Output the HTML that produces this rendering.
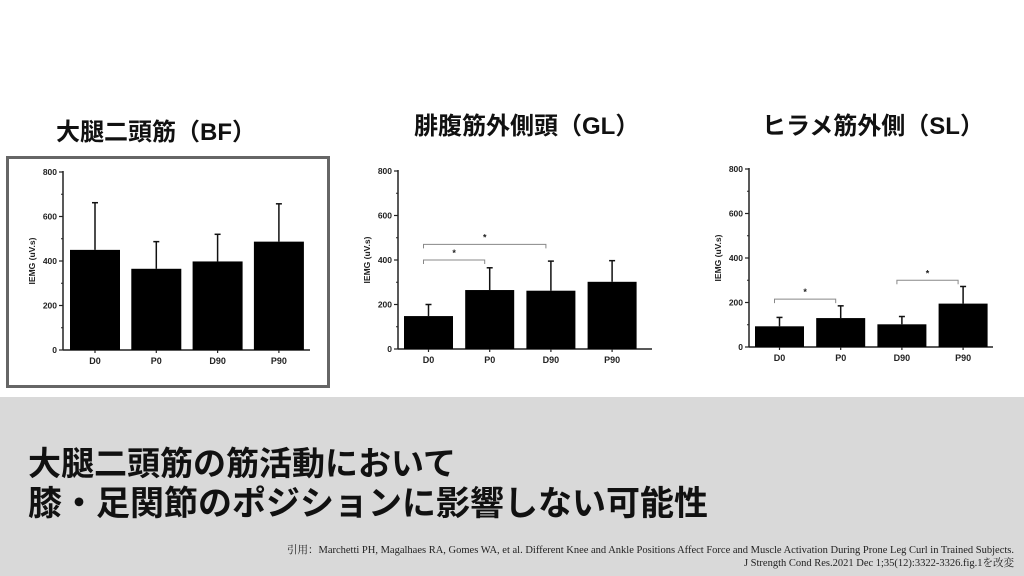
<!DOCTYPE html>
<html><head><meta charset="utf-8"><style>
body{margin:0;width:1024px;height:576px;background:#fff;position:relative;overflow:hidden;font-family:"Liberation Sans","Noto Sans CJK JP",sans-serif}
.t{position:absolute;font-weight:bold;color:#111;white-space:nowrap}
</style></head><body>
<div class="t" style="left:56px;top:112px;font-size:24px">大腿二頭筋（BF）</div>
<div class="t" style="left:414px;top:106px;font-size:24px">腓腹筋外側頭（GL）</div>
<div class="t" style="left:762px;top:106px;font-size:24px">ヒラメ筋外側（SL）</div>
<div style="position:absolute;left:6px;top:156px;width:318px;height:226px;border:3px solid #666"></div>
<div style="position:absolute;left:0;top:397px;width:1024px;height:179px;background:#d9d9d9"></div>
<div class="t" style="left:28px;top:444px;font-size:33px;line-height:40px">大腿二頭筋の筋活動において</div>
<div class="t" style="left:28px;top:484px;font-size:34px;line-height:40px">膝・足関節のポジションに影響しない可能性</div>
<div style="position:absolute;right:10px;top:544px;text-align:right;font-family:'Liberation Serif','Noto Serif CJK SC',serif;font-size:10.5px;line-height:13px;color:#222">引用：Marchetti PH, Magalhaes RA, Gomes WA, et al. Different Knee and Ankle Positions Affect Force and Muscle Activation During Prone Leg Curl in Trained Subjects.<br>J Strength Cond Res.2021 Dec 1;35(12):3322-3326.fig.1を改変</div>
<svg id="svg" width="1024" height="576" style="position:absolute;left:0;top:0"></svg>
<script>
const categories=["D0","P0","D90","P90"];
const yTicks=[0,200,400,600,800];
const bfMeans=[450,365,398,487];
const bfErrTops=[662,487,520,657];
const glMeans=[148,265,262,302];
const glErrTops=[200,365,395,397];
const slMeans=[93,130,102,195];
const slErrTops=[133,185,137,272];
const glBrackets=[[0,1,400],[0,2,470]];
const slBrackets=[[0,1,215],[2,3,300]];
const NS="http://www.w3.org/2000/svg";
const svg=document.getElementById('svg');
function mk(tag,attrs,parent){const e=document.createElementNS(NS,tag);for(const k in attrs)e.setAttribute(k,attrs[k]);(parent||svg).appendChild(e);return e;}
function chart(name,ax,y0,y800,xEnd,firstBar,barW,gap,means,errs,brackets){
  const g=mk('g',{});
  
  
  const ys=v=>y0-(v/800)*(y0-y800);
  const bx=i=>firstBar+i*(barW+gap);
  const yAxis=mk('line',{x1:ax,y1:y800-1,x2:ax,y2:y0,stroke:'#222','stroke-width':1.5},g);
  
  
  const xAxis=mk('line',{x1:ax,y1:y0,x2:xEnd,y2:y0,stroke:'#222','stroke-width':1.5},g);
  
  
  yTicks.forEach(v=>{
    mk('line',{x1:ax-4,y1:ys(v),x2:ax,y2:ys(v),stroke:'#222','stroke-width':1.2},g);
    if(v<800) mk('line',{x1:ax-2,y1:ys(v+100),x2:ax,y2:ys(v+100),stroke:'#222','stroke-width':1},g);
    const t=mk('text',{x:ax-6,y:ys(v)+3,'text-anchor':'end','font-size':8.5,'font-weight':'bold',fill:'#222'},g);
    t.textContent=v;
    
    
  });
  const yl=mk('text',{x:0,y:0,transform:`translate(${ax-28},${(y0+y800)/2}) rotate(-90)`,'text-anchor':'middle','font-size':8.5,'font-weight':'bold',fill:'#222'},g);
  yl.textContent='IEMG (uV.s)';
  
  
  categories.forEach((c,i)=>{
    const x=bx(i),cx=x+barW/2;
    const eb=mk('line',{x1:cx,y1:ys(errs[i]),x2:cx,y2:ys(means[i]),stroke:'#111','stroke-width':1.5},g);
    
    
    mk('line',{x1:cx-3,y1:ys(errs[i]),x2:cx+3,y2:ys(errs[i]),stroke:'#111','stroke-width':1.5},g);
    const r=mk('rect',{x:x,y:ys(means[i]),width:barW,height:y0-ys(means[i]),fill:'#000'},g);
    
    
    mk('line',{x1:cx,y1:y0,x2:cx,y2:y0+3,stroke:'#222','stroke-width':1.2},g);
    const t=mk('text',{x:cx,y:y0+14,'text-anchor':'middle','font-size':9,'font-weight':'bold',fill:'#222'},g);
    t.textContent=c;
    
    
  });
  brackets.forEach(b=>{
    const x1=bx(b[0])+barW/2-5,x2=bx(b[1])+barW/2-5,y=ys(b[2]);
    const p=mk('path',{d:`M${x1},${y+4}V${y}H${x2}V${y+4}`,fill:'none',stroke:'#888','stroke-width':1},g);
    
    
    const s=mk('text',{x:(x1+x2)/2,y:y-4,'text-anchor':'middle','font-size':9,'font-weight':'bold',fill:'#222'},g);
    s.textContent='*';
    
    
  });
}
chart('bf',63,350,172,310,70,50,11.3,bfMeans,bfErrTops,[]);
chart('gl',398,349,171,652,404,49,12.2,glMeans,glErrTops,glBrackets);
chart('sl',749,347,169,993,755,49,12.2,slMeans,slErrTops,slBrackets);
</script>
</body></html>
